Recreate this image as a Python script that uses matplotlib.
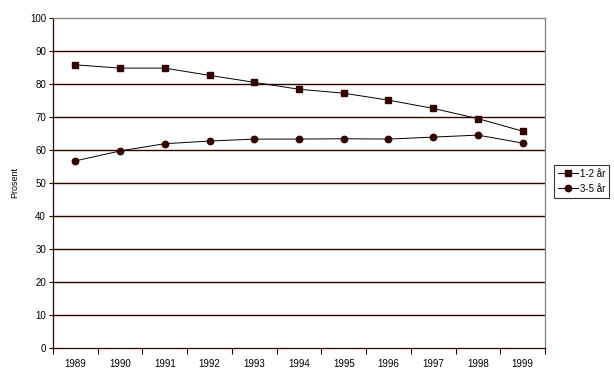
import matplotlib
matplotlib.use("Agg")
import matplotlib.pyplot as plt
import numpy as np

years = ["1989", "1990", "1991", "1992", "1993", "1994", "1995", "1996", "1997", "1998", "1999"]
aar_1_2 = [85.8, 84.8, 84.8, 82.6, 80.5, 78.4, 77.2, 75.1, 72.6, 69.5, 65.7]
aar_3_5 = [56.7, 59.7, 61.9, 62.7, 63.3, 63.3, 63.4, 63.3, 63.9, 64.5, 62.1]

plt.rcParams['font.family'] = ['Liberation Sans', 'DejaVu Sans']
dark = '#330000'
grid_c = '#300000'

fig = plt.figure(figsize=(6.14, 3.82), dpi=100)
ax = fig.add_axes([0.0863, 0.089, 0.8013, 0.864])

x = np.arange(len(years))
ax.plot(x, aar_1_2, color='black', lw=0.7, marker='s', ms=4.8,
        mfc=dark, mec=dark, label='1-2 år')
ax.plot(x, aar_3_5, color='black', lw=0.7, marker='o', ms=4.6,
        mfc=dark, mec=dark, label='3-5 år')

ax.set_xlim(-0.5, len(years) - 0.5)
ax.set_ylim(0, 100)
ax.set_yticks(np.arange(0, 101, 10))
ax.set_xticks(x)
ax.set_xticklabels(years)
ax.set_xticks(np.arange(-0.5, len(years), 1), minor=True)
ax.tick_params(axis='x', which='major', length=0, labelsize=7, pad=8)
ax.tick_params(axis='x', which='minor', length=4, width=0.8, color=dark, direction='out')
ax.tick_params(axis='y', length=3, width=0.8, color=dark, labelsize=7, pad=2)

for v in range(10, 100, 10):
    ax.axhline(v, color=grid_c, lw=1.0, zorder=0)

ax.spines['left'].set_color(dark)
ax.spines['bottom'].set_color(dark)
ax.spines['top'].set_color('#808080')
ax.spines['right'].set_color('#808080')
for s in ax.spines.values():
    s.set_linewidth(0.9)

ax.set_ylabel('Prosent', fontsize=6.5, labelpad=8)

leg = ax.legend(loc='center left', bbox_to_anchor=(1.008, 0.505), fontsize=7,
                frameon=True, fancybox=False, handlelength=2.1,
                handletextpad=0.2, borderpad=0.4, labelspacing=0.5)
leg.get_frame().set_edgecolor('black')
leg.get_frame().set_linewidth(0.8)

fig.savefig('out.png', dpi=100)
